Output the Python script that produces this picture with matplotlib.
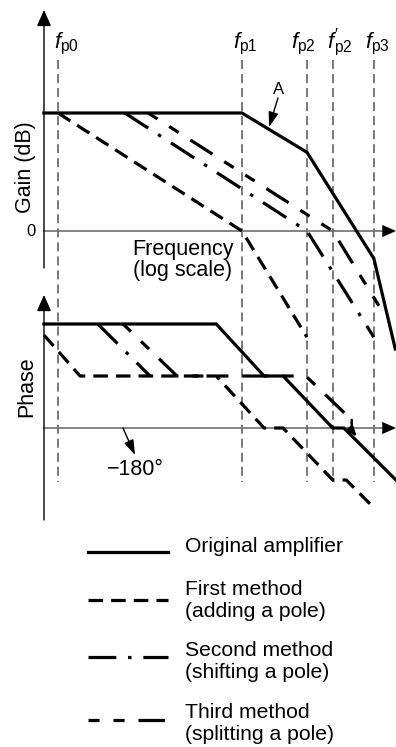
import matplotlib
matplotlib.use('Agg')
import matplotlib.pyplot as plt

plt.rcParams['font.family'] = ['Liberation Sans', 'DejaVu Sans']
plt.rcParams['mathtext.fontset'] = 'custom'
plt.rcParams['mathtext.rm'] = 'Liberation Sans'
plt.rcParams['mathtext.it'] = 'Liberation Sans:italic'
plt.rcParams['lines.scale_dashes'] = False

# ---------------- data (frequency in decades above fp0, gain in dB, phase in deg)
pole_names = [r"$f_{\mathrm{p0}}$", r"$f_{\mathrm{p1}}$", r"$f_{\mathrm{p2}}$",
              r"$f'_{\!\!\mathrm{p2}}$", r"$f_{\mathrm{p3}}$"]
pole_freq = [0.0, 3.0, 4.06, 4.48, 5.15]

gain_orig_f = [-0.23, 3.0, 4.06, 5.15, 5.50]
gain_orig_db = [60, 60, 40, -14, -60]
gain_first_f = [0.0, 3.0, 4.06]
gain_first_db = [60, 0, -54]
gain_second_f = [1.09, 4.06, 5.15]
gain_second_db = [60, 0, -54]
gain_third_f = [1.47, 4.48, 5.33]
gain_third_db = [60, 0, -43]

phase_orig_f = [-0.23, 2.58, 3.36, 3.67, 4.48, 4.66, 5.51]
phase_orig_deg = [0, 0, -90, -90, -180, -180, -270]
phase_first_f = [-0.23, 0.36, 2.58, 3.36, 3.67, 4.48, 4.70, 5.15]
phase_first_deg = [-19, -90, -90, -180, -180, -270, -270, -318]
phase_second_f = [0.65, 1.50]
phase_second_deg = [0, -90]
phase_third_f = [1.06, 1.94, 4.04, 4.79]
phase_third_deg = [0, -90, -90, -166]

legend_labels = ["Original amplifier", "First method\n(adding a pole)",
                 "Second method\n(shifting a pole)", "Third method\n(splitting a pole)"]

# ---------------- layout helpers (pixel geometry of the figure)
W, H = 396, 747
PX_DEC, FP0_PX = 61.33, 58
PX_DB, DB0_PX = 1.9667, 231
PX_DEG, DEG0_PX = 0.5778, 324

def fx(px):
    return (px - FP0_PX) / PX_DEC

def gy(py):
    return (DB0_PX - py) / PX_DB

def py_(py):
    return (DEG0_PX - py) / PX_DEG

styles = [
    dict(color='black', lw=2.3, ls='-'),
    dict(color='black', lw=2.3, dashes=(10.5, 5.8)),
    dict(color='black', lw=2.3, dashes=(20, 8.5, 2.5, 8.5)),
    dict(color='black', lw=2.3, dashes=(8, 10, 8, 10, 19, 10)),
]

fig = plt.figure(figsize=(W / 100, H / 100), dpi=100)

ax_g = fig.add_axes([44 / W, 1 - 268 / H, 352 / W, 258 / H])
ax_g.set_xlim(fx(44), fx(396))
ax_g.set_ylim(gy(268), gy(10))
ax_g.axis('off')

ax_p = fig.add_axes([44 / W, 1 - 520 / H, 352 / W, 225 / H])
ax_p.set_xlim(fx(44), fx(396))
ax_p.set_ylim(py_(520), py_(295))
ax_p.axis('off')

ax_l = fig.add_axes([0, 0, 1, 1], zorder=-1)
ax_l.set_xlim(0, W)
ax_l.set_ylim(H, 0)
ax_l.axis('off')

head = '-|>,head_length=0.45,head_width=0.2'
grey = '#6e6e6e'

for ax, lo, hi in [(ax_g, gy(268), gy(10)), (ax_p, py_(520), py_(295))]:
    x0 = fx(44)
    ax.annotate('', xy=(x0, hi), xytext=(x0, lo),
                arrowprops=dict(arrowstyle=head, mutation_scale=22, lw=1.0,
                                color='black', shrinkA=0, shrinkB=0))

# reference lines 0 dB and -180 deg with black arrow heads
for ax, yv in [(ax_g, 0), (ax_p, -180)]:
    ax.plot([fx(44), fx(392)], [yv, yv], color=grey, lw=1.2, clip_on=False)
    ax.annotate('', xy=(fx(396), yv), xytext=(fx(386), yv),
                arrowprops=dict(arrowstyle=head, mutation_scale=22, lw=0,
                                fc='black', ec='none', shrinkA=0, shrinkB=0))

# pole verticals
label_px = [66, 245, 303, 340, 377]
for f, name, lp in zip(pole_freq, pole_names, label_px):
    ax_g.plot([f, f], [gy(60), gy(482)], color=grey, lw=1.3,
              dashes=(6.5, 3.6), clip_on=False)
    ax_g.text(fx(lp), gy(48), name, ha='center', va='baseline', fontsize=16)

# gain curves
ax_g.plot(gain_orig_f, gain_orig_db, clip_on=False, solid_joinstyle='miter', **styles[0])
ax_g.plot(gain_first_f, gain_first_db, clip_on=False, **styles[1])
ax_g.plot(gain_second_f, gain_second_db, clip_on=False, **styles[2])
ax_g.plot(gain_third_f, gain_third_db, clip_on=False, **styles[3])

# phase curves
ax_p.plot(phase_orig_f, phase_orig_deg, clip_on=False, solid_joinstyle='miter', **styles[0])
ax_p.plot(phase_first_f, phase_first_deg, clip_on=False, **styles[1])
ax_p.plot(phase_second_f, phase_second_deg, clip_on=False, **styles[2])
ax_p.plot(phase_third_f, phase_third_deg, clip_on=False, **styles[3])
ax_p.annotate('', xy=(fx(357), py_(437)), xytext=(phase_third_f[-1], phase_third_deg[-1]),
              arrowprops=dict(arrowstyle='-|>,head_length=0.35,head_width=0.13',
                              mutation_scale=16, lw=1.8, color='black',
                              shrinkA=0, shrinkB=0, connectionstyle='arc3,rad=0.2'))

# annotations
ax_g.text(fx(279), gy(90), 'A', ha='center', va='center', fontsize=12)
ax_g.annotate('', xy=(fx(269), gy(127)), xytext=(fx(278), gy(98)),
              arrowprops=dict(arrowstyle='-|>,head_length=0.45,head_width=0.15',
                              mutation_scale=20, lw=1.0, color='black',
                              shrinkA=0, shrinkB=0))
ax_g.text(fx(31), 0, '0', ha='center', va='center', fontsize=12)
ax_g.text(fx(183), gy(255), 'Frequency', ha='center', va='baseline', fontsize=15.5)
ax_g.text(fx(183), gy(276), '(log scale)', ha='center', va='baseline', fontsize=15.5)

ax_p.text(fx(135), py_(475), '\u2212180\u00b0', ha='center', va='baseline', fontsize=15.5)
ax_p.annotate('', xy=(fx(135), py_(455)), xytext=(fx(123), -180),
              arrowprops=dict(arrowstyle='-|>,head_length=0.45,head_width=0.15',
                              mutation_scale=20, lw=1.0, color='black',
                              shrinkA=0, shrinkB=0))

ax_l.text(25, 167, 'Gain (dB)', rotation=90, ha='center', va='center', fontsize=15.5)
ax_l.text(27, 387, 'Phase', rotation=90, ha='center', va='center', fontsize=15.5)

# legend (drawn manually)
leg_line_y = [552, 600, 657, 720]
leg_text_base = [[552], [595, 617], [656, 678], [718, 740]]
for st, lab, ly, tb in zip(styles, legend_labels, leg_line_y, leg_text_base):
    ax_l.plot([88, 168], [ly, ly], **st)
    for line, b in zip(lab.split('\n'), tb):
        ax_l.text(185, b, line, ha='left', va='baseline', fontsize=15.2)

fig.savefig('out.png', dpi=100)
